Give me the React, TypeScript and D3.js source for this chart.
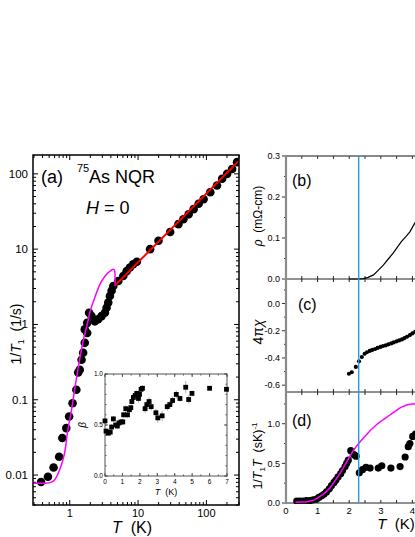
import React from "react";
import * as d3 from "d3";

// ---------- Panel (a): 1/T1 vs T (log-log) ----------
const A_T = [0.38, 0.48, 0.58, 0.7, 0.78, 0.89, 0.98, 1.1, 1.25, 1.33, 1.4, 1.49, 1.57, 1.66, 1.8, 1.66, 1.8, 1.92, 2.08, 2.33, 2.61, 2.92, 3.27, 3.46, 3.66, 3.87, 4.1, 4.34,
  5.14, 6.08, 6.8, 7.6, 8.5, 9.6, 15, 19.9, 29.5, 39, 46, 55, 65, 77, 91, 114, 143, 170, 201, 238, 281];
const A_V = [0.0081, 0.0095, 0.0126, 0.0175, 0.031, 0.042, 0.06, 0.09, 0.136, 0.23, 0.25, 0.34, 0.42, 0.57, 0.77, 0.86, 1.05, 1.43, 1.29, 1.1, 1.17, 1.29, 1.43, 1.67, 1.95, 2.39, 2.8, 3.24,
  3.78, 4.4, 5.1, 5.7, 6.3, 6.8, 10, 12.9, 16.9, 21.5, 25, 29, 34, 40, 46, 57, 70, 86, 100, 116, 143];
const A_FIT_T = [0.29, 0.45, 0.55, 0.6, 0.65, 0.71, 0.78, 0.84, 0.94, 1.06, 1.2, 1.37, 1.57, 1.8, 1.97, 2.3, 2.76, 3.3, 3.9, 4.34, 4.5, 4.6, 4.62];
const A_FIT_V = [0.0078, 0.0078, 0.0081, 0.0086, 0.0097, 0.0117, 0.015, 0.0195, 0.04, 0.073, 0.15, 0.31, 0.6, 1.0, 1.44, 2.2, 3.4, 4.4, 5.1, 5.4, 5.3, 4.8, 3.24];
const A_LINE_T = [4.62, 300];
const A_LINE_V = [3.3, 150];
const A_YTICKS = [0.01, 0.1, 1, 10, 100];
const A_YLABELS = ["0.01", "0.1", "1", "10", "100"];
const A_XTICKS = [1, 10, 100];
const A_XLABELS = ["1", "10", "100"];

// ---------- Inset: beta vs T ----------
const I_T = [0, 0.06, 0.19, 0.3, 0.38, 0.48, 0.61, 0.71, 0.8, 0.92, 1.02, 1.07, 1.19, 1.29, 1.4, 1.48, 1.54, 1.63, 1.73, 1.82, 1.92, 1.98, 2.07, 2.15,
  2.3, 2.4, 2.53, 2.65, 2.92, 3.03, 3.28, 3.57, 3.72, 3.88, 4.09, 4.3, 4.63, 4.8, 4.99, 6.0, 6.97];
const I_B = [0.54, 0.44, 0.42, 0.43, 0.48, 0.56, 0.5, 0.49, 0.52, 0.53, 0.53, 0.6, 0.66, 0.6, 0.65, 0.67, 0.73, 0.77, 0.79, 0.81, 0.76, 0.8, 0.85, 0.86,
  0.66, 0.7, 0.73, 0.68, 0.62, 0.57, 0.59, 0.68, 0.7, 0.74, 0.8, 0.76, 0.87, 0.75, 0.81, 0.86, 0.85];
const I_ERR = [0.03, 0.03, 0.03, 0.03, 0.03, 0.03, 0.03, 0.03, 0.03, 0.03, 0.03, 0.03, 0.03, 0.03, 0.03, 0.03, 0.03, 0.03, 0.03, 0.03, 0.04, 0.03, 0.03, 0.03,
  0.04, 0.04, 0.04, 0.04, 0.04, 0.05, 0.05, 0.04, 0.04, 0.04, 0.04, 0.03, 0.06, 0.04, 0.03, 0.02, 0.02];
const I_XTICKS = [0, 1, 2, 3, 4, 5, 6, 7];
const I_YTICKS = [0, 0.5, 1];
const I_YLABELS = ["0.0", "0.5", "1.0"];

// ---------- Panel (b): resistivity ----------
const B_T = [2.0, 2.3, 2.45, 2.6, 2.77, 2.9, 3.08, 3.25, 3.39, 3.52, 3.65, 3.8, 3.92, 4.08, 4.3, 4.6];
const B_R = [0.0, 0.0, 0.001, 0.004, 0.01, 0.02, 0.034, 0.05, 0.063, 0.077, 0.091, 0.104, 0.115, 0.137, 0.16, 0.19];
const B_YTICKS = [0, 0.1, 0.2, 0.3];
const B_YLABELS = ["0.0", "0.1", "0.2", "0.3"];

// ---------- Panel (c): susceptibility ----------
const C_T = [1.99, 2.08, 2.21, 2.31, 2.4, 2.49, 2.56, 2.65, 2.73, 2.82, 2.9, 2.99, 3.07, 3.16, 3.24, 3.33, 3.41, 3.5, 3.58, 3.67, 3.75, 3.83, 3.92, 4.0, 4.09, 4.17, 4.25];
const C_X = [-0.516, -0.505, -0.466, -0.425, -0.393, -0.369, -0.358, -0.348, -0.341, -0.334, -0.326, -0.319, -0.312, -0.307, -0.3, -0.293, -0.286, -0.278, -0.271, -0.264, -0.254, -0.244, -0.232, -0.22, -0.208, -0.196, -0.184];
const C_YTICKS = [0, -0.2, -0.4, -0.6];
const C_YLABELS = ["0.0", "-0.2", "-0.4", "-0.6"];

// ---------- Panel (d): 1/T1T ----------
const D_T = [0.34, 0.44, 0.55, 0.65, 0.76, 0.86, 0.97, 1.04, 1.13, 1.2, 1.28, 1.37, 1.44, 1.52, 1.58, 1.65, 1.73, 1.79, 1.87, 1.92, 1.97, 2.05, 2.15, 2.22,
  2.32, 2.42, 2.53, 2.66, 2.92, 3.03, 3.32, 3.61, 3.77, 3.87, 3.92, 4.01, 4.1];
const D_V = [0.025, 0.025, 0.025, 0.03, 0.03, 0.04, 0.05, 0.07, 0.09, 0.11, 0.14, 0.18, 0.22, 0.26, 0.29, 0.33, 0.37, 0.41, 0.46, 0.5, 0.54, 0.66, 0.61, 0.59,
  0.38, 0.42, 0.45, 0.44, 0.44, 0.47, 0.44, 0.46, 0.58, 0.71, 0.75, 0.84, 0.87];
const D_FIT_T = [0.3, 0.5, 0.7, 0.9, 1.1, 1.39, 1.6, 1.81, 2.08, 2.45, 2.87, 3.29, 3.66, 3.98, 4.3, 4.6];
const D_FIT_V = [0.01, 0.012, 0.02, 0.04, 0.09, 0.19, 0.31, 0.44, 0.63, 0.82, 0.99, 1.11, 1.21, 1.25, 1.25, 1.22];
const D_YTICKS = [0, 0.5, 1.0];
const D_YLABELS = ["0.0", "0.5", "1.0"];
const R_XTICKS = [0, 1, 2, 3, 4];
const TC = 2.3;

const FONT = "'Liberation Sans', Arial, sans-serif";

export default function App() {
  // scales
  const xA = d3.scaleLog().domain([0.29, 300]).range([33, 239]);
  const yA = d3.scaleLog().domain([0.004, 178]).range([505, 155]);
  const xI = d3.scaleLinear().domain([0, 7]).range([105, 227]);
  const yI = d3.scaleLinear().domain([0, 1]).range([476, 374]);
  const xR = d3.scaleLinear().domain([0, 5]).range([286, 444]);
  const yB = d3.scaleLinear().domain([0, 0.3]).range([279, 156]);
  const yC = d3.scaleLinear().domain([-0.65, 0.18]).range([392, 279]);
  const yD = d3.scaleLinear().domain([0, 1.4]).range([503, 392]);

  const lineA = d3.line<number>().x((i) => xA(A_FIT_T[i])).y((i) => yA(A_FIT_V[i])).curve(d3.curveMonotoneX);
  const lineARed = d3.line<number>().x((i) => xA(A_LINE_T[i])).y((i) => yA(A_LINE_V[i]));
  const lineB = d3.line<number>().x((i) => xR(B_T[i])).y((i) => yB(B_R[i]));
  const lineD = d3.line<number>().x((i) => xR(D_FIT_T[i])).y((i) => yD(D_FIT_V[i])).curve(d3.curveMonotoneX);

  // log minor ticks
  const yMinor: number[] = [];
  for (let e = -3; e <= 2; e++) for (let m = 1; m <= 9; m++) {
    const v = m * Math.pow(10, e);
    if (v >= 0.004 && v <= 178) yMinor.push(v);
  }
  const xMinor: number[] = [];
  for (let e = -1; e <= 2; e++) for (let m = 1; m <= 9; m++) {
    const v = m * Math.pow(10, e);
    if (v >= 0.29 && v <= 300) xMinor.push(v);
  }
  const isMajor = (v: number) => Math.abs(Math.log10(v) - Math.round(Math.log10(v))) < 1e-6;

  const rXTicks: number[] = [];
  for (let t = 0; t <= 5; t += 0.5) rXTicks.push(t);

  const frameL = 33, frameR = 239, frameT = 155, frameB = 505;

  return (
    <div style={{ position: "absolute", left: 0, top: 0, width: 415, height: 537, overflow: "hidden", background: "#fff" }}>
      <svg width={415} height={537} style={{ display: "block", fontFamily: FONT }}>
        <defs>
          <clipPath id="clipA"><rect x={frameL} y={frameT} width={frameR - frameL} height={frameB - frameT} /></clipPath>
          <clipPath id="clipR"><rect x={286} y={156} width={200} height={348} /></clipPath>
        </defs>

        {/* ===== Panel (a) ===== */}
        <g>
          {yMinor.map((v, i) => {
            const L = isMajor(v) ? 5 : 3;
            return (
              <g key={"ym" + i}>
                <line x1={frameL} x2={frameL + L} y1={yA(v)} y2={yA(v)} stroke="#000" strokeWidth={1} />
                <line x1={frameR} x2={frameR - L} y1={yA(v)} y2={yA(v)} stroke="#000" strokeWidth={1} />
              </g>
            );
          })}
          {xMinor.map((v, i) => {
            const L = isMajor(v) ? 5 : 3;
            return (
              <g key={"xm" + i}>
                <line y1={frameB} y2={frameB - L} x1={xA(v)} x2={xA(v)} stroke="#000" strokeWidth={1} />
                <line y1={frameT} y2={frameT + L} x1={xA(v)} x2={xA(v)} stroke="#000" strokeWidth={1} />
              </g>
            );
          })}
          {A_YTICKS.map((v, i) => (
            <text key={"yl" + i} x={28} y={yA(v)} dy="0.35em" textAnchor="end" fontSize={11.5} fill="#000">{A_YLABELS[i]}</text>
          ))}
          {A_XTICKS.map((v, i) => (
            <text key={"xl" + i} x={xA(v)} y={516.5} textAnchor="middle" fontSize={11} fill="#000">{A_XLABELS[i]}</text>
          ))}

          <g clipPath="url(#clipA)">
            {A_T.map((t, i) => (
              <circle key={"ad" + i} cx={xA(t)} cy={yA(A_V[i])} r={4.3} fill="#000" />
            ))}
            <path d={lineA(d3.range(A_FIT_T.length)) || ""} fill="none" stroke="#ff00ff" strokeWidth={1.5} />
            <path d={lineARed(d3.range(A_LINE_T.length)) || ""} fill="none" stroke="#ff0000" strokeWidth={2} />
          </g>

          <rect x={frameL} y={frameT} width={frameR - frameL} height={frameB - frameT} fill="none" stroke="#000" strokeWidth={1.5} />

          <text x={41} y={183} fontSize={18} fill="#000">(a)</text>
          <text x={77} y={172} fontSize={11} fill="#000">75</text>
          <text x={89} y={183} fontSize={18} fill="#000">As NQR</text>
          <text x={86} y={214} fontSize={18} fill="#000"><tspan fontStyle="italic">H</tspan> = 0</text>

          <text transform="translate(21,334) rotate(-90)" textAnchor="middle" fontSize={14} fill="#000">
            1/<tspan fontStyle="italic">T</tspan><tspan fontSize={9} dy={3}>1</tspan><tspan dy={-3}>{"\u00a0\u00a0(1/s)"}</tspan>
          </text>
          <text x={132} y={533} textAnchor="middle" fontSize={16} fill="#000">
            <tspan fontStyle="italic">T</tspan>{"\u00a0\u00a0(K)"}
          </text>
        </g>

        {/* ===== Inset ===== */}
        <g>
          <rect x={105} y={374} width={122} height={102} fill="#fff" stroke="#555" strokeWidth={1} />
          {I_XTICKS.map((v, i) => (
            <g key={"ixt" + i}>
              <line x1={xI(v)} x2={xI(v)} y1={476} y2={473} stroke="#555" />
              <line x1={xI(v)} x2={xI(v)} y1={374} y2={377} stroke="#555" />
              <text x={xI(v)} y={484} textAnchor="middle" fontSize={6.5} fill="#000">{v}</text>
            </g>
          ))}
          {d3.range(0, 7.01, 0.5).map((v, i) => (
            <g key={"ixm" + i}>
              <line x1={xI(v)} x2={xI(v)} y1={476} y2={474.5} stroke="#555" />
              <line x1={xI(v)} x2={xI(v)} y1={374} y2={375.5} stroke="#555" />
            </g>
          ))}
          {I_YTICKS.map((v, i) => (
            <g key={"iyt" + i}>
              <line x1={105} x2={108} y1={yI(v)} y2={yI(v)} stroke="#555" />
              <line x1={227} x2={224} y1={yI(v)} y2={yI(v)} stroke="#555" />
              <text x={103} y={yI(v)} dy="0.35em" textAnchor="end" fontSize={6.5} fill="#000">{I_YLABELS[i]}</text>
            </g>
          ))}
          {d3.range(0, 1.001, 0.1).map((v, i) => (
            <g key={"iym" + i}>
              <line x1={105} x2={106.5} y1={yI(v)} y2={yI(v)} stroke="#555" />
              <line x1={227} x2={225.5} y1={yI(v)} y2={yI(v)} stroke="#555" />
            </g>
          ))}
          {I_T.map((t, i) => (
            <line key={"ie" + i} x1={xI(t)} x2={xI(t)} y1={yI(I_B[i] - I_ERR[i])} y2={yI(I_B[i] + I_ERR[i])} stroke="#999" strokeWidth={0.8} />
          ))}
          {I_T.map((t, i) => (
            <rect key={"ip" + i} x={xI(t) - 2.4} y={yI(I_B[i]) - 2.4} width={4.8} height={4.8} fill="#000" />
          ))}
          <text transform="translate(86,425) rotate(-90)" textAnchor="middle" fontSize={10} fontStyle="italic" fill="#000">β</text>
          <text x={166} y={495} textAnchor="middle" fontSize={9} fill="#000">
            <tspan fontStyle="italic">T</tspan>{"\u00a0\u00a0(K)"}
          </text>
        </g>

        {/* ===== Right panels ===== */}
        <g>
          {B_YTICKS.map((v, i) => (
            <g key={"byt" + i}>
              <line x1={282} x2={286} y1={yB(v)} y2={yB(v)} stroke="#333" />
              <text x={280} y={yB(v)} dy="0.35em" textAnchor="end" fontSize={9} fill="#000">{B_YLABELS[i]}</text>
            </g>
          ))}
          {[0.05, 0.15, 0.25].map((v, i) => (
            <line key={"bym" + i} x1={284} x2={286} y1={yB(v)} y2={yB(v)} stroke="#333" />
          ))}
          {C_YTICKS.map((v, i) => (
            <g key={"cyt" + i}>
              <line x1={282} x2={286} y1={yC(v)} y2={yC(v)} stroke="#333" />
              <text x={280} y={yC(v)} dy="0.35em" textAnchor="end" fontSize={9} fill="#000">{C_YLABELS[i]}</text>
            </g>
          ))}
          {[0.1, -0.1, -0.3, -0.5].map((v, i) => (
            <line key={"cym" + i} x1={284} x2={286} y1={yC(v)} y2={yC(v)} stroke="#333" />
          ))}
          {D_YTICKS.map((v, i) => (
            <g key={"dyt" + i}>
              <line x1={282} x2={286} y1={yD(v)} y2={yD(v)} stroke="#333" />
              <text x={280} y={yD(v)} dy="0.35em" textAnchor="end" fontSize={9} fill="#000">{D_YLABELS[i]}</text>
            </g>
          ))}
          {[0.25, 0.75, 1.25].map((v, i) => (
            <line key={"dym" + i} x1={284} x2={286} y1={yD(v)} y2={yD(v)} stroke="#333" />
          ))}

          {[279, 392, 503].map((yy, k) => (
            <g key={"xax" + k}>
              <line x1={286} x2={415} y1={yy} y2={yy} stroke="#222" strokeWidth={1} />
              {rXTicks.map((t, i) => (
                <line key={"xt" + i} x1={xR(t)} x2={xR(t)} y1={yy - 3} y2={yy + (k === 2 ? 0 : 3)} stroke="#222" strokeWidth={1} />
              ))}
            </g>
          ))}
          <line x1={286} x2={415} y1={156} y2={156} stroke="#8a8a8a" strokeWidth={2} />
          {rXTicks.map((t, i) => (
            <line key={"topt" + i} x1={xR(t)} x2={xR(t)} y1={156} y2={159} stroke="#333" />
          ))}
          {R_XTICKS.map((t, i) => (
            <text key={"rxl" + i} x={xR(t)} y={514} textAnchor="middle" fontSize={9.5} fill="#000">{t}</text>
          ))}

          <g clipPath="url(#clipR)">
            <path d={lineB(d3.range(B_T.length)) || ""} fill="none" stroke="#000" strokeWidth={1.2} />
            {C_T.map((t, i) => (
              <circle key={"cd" + i} cx={xR(t)} cy={yC(C_X[i])} r={2.1} fill="#000" />
            ))}
            {D_T.map((t, i) => (
              <circle key={"dd" + i} cx={xR(t)} cy={yD(D_V[i])} r={3.6} fill="#000" />
            ))}
            <path d={lineD(d3.range(D_FIT_T.length)) || ""} fill="none" stroke="#ff00ff" strokeWidth={1.5} />
          </g>

          <line x1={xR(TC)} x2={xR(TC)} y1={156} y2={503} stroke="#2a9ad8" strokeWidth={1.4} />
          <line x1={286} x2={286} y1={155} y2={504} stroke="#8a8a8a" strokeWidth={2.2} />

          <text x={292} y={186} fontSize={16} fill="#000">(b)</text>
          <text x={298} y={310} fontSize={16} fill="#000">(c)</text>
          <text x={292} y={426} fontSize={16} fill="#000">(d)</text>

          <text transform="translate(262,216) rotate(-90)" textAnchor="middle" fontSize={12} fill="#000">
            <tspan fontStyle="italic">ρ</tspan>{"\u00a0\u00a0(mΩ-cm)"}
          </text>
          <text transform="translate(263,332) rotate(-90)" textAnchor="middle" fontSize={14} fill="#000">
            4π<tspan fontStyle="italic">χ</tspan>
          </text>
          <text transform="translate(262,456) rotate(-90)" textAnchor="middle" fontSize={12.5} fill="#000">
            1/<tspan fontStyle="italic">T</tspan><tspan fontSize={8} dy={3}>1</tspan><tspan dy={-3} fontStyle="italic">T</tspan>{"\u00a0\u00a0(sK)"}<tspan fontSize={8} dy={-5}>-1</tspan>
          </text>
          <text x={396} y={529} textAnchor="middle" fontSize={15} fill="#000">
            <tspan fontStyle="italic">T</tspan>{"\u00a0\u00a0(K)"}
          </text>
        </g>
      </svg>
    </div>
  );
}
